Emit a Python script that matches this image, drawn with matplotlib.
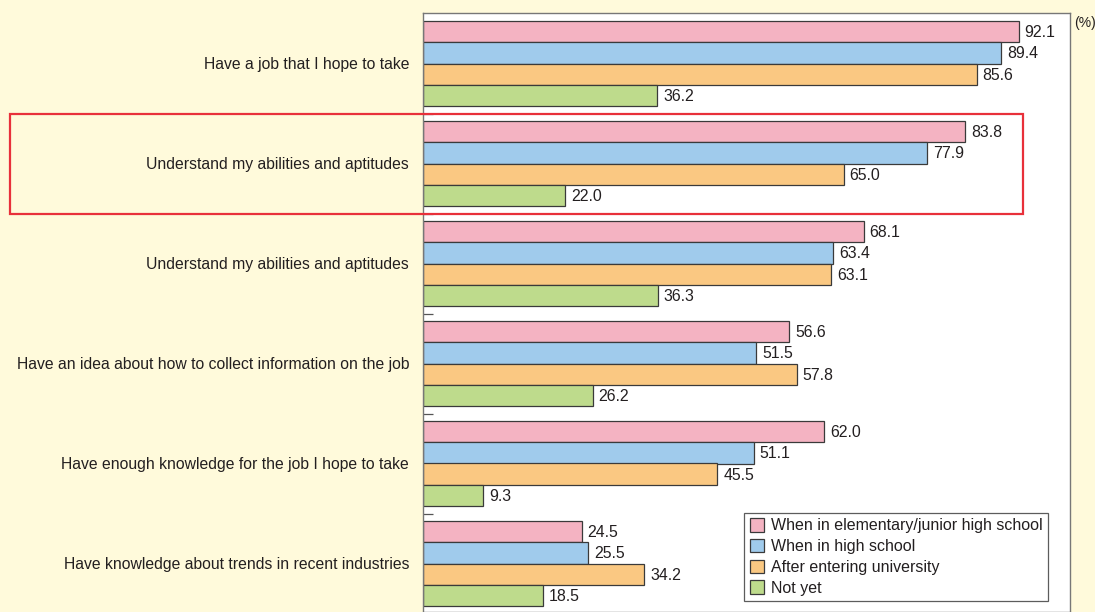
import matplotlib.pyplot as plt
import numpy as np
from matplotlib.patches import Rectangle
from matplotlib.transforms import blended_transform_factory

plt.rcParams["font.family"] = ["Liberation Sans Narrow", "Liberation Sans", "DejaVu Sans"]

categories = [
    "Have a job that I hope to take",
    "Understand my abilities and aptitudes",
    "Understand my abilities and aptitudes",
    "Have an idea about how to collect information on the job",
    "Have enough knowledge for the job I hope to take",
    "Have knowledge about trends in recent industries",
]
series_names = [
    "When in elementary/junior high school",
    "When in high school",
    "After entering university",
    "Not yet",
]
elementary = [92.1, 83.8, 68.1, 56.6, 62.0, 24.5]
high_school = [89.4, 77.9, 63.4, 51.5, 51.1, 25.5]
university = [85.6, 65.0, 63.1, 57.8, 45.5, 34.2]
not_yet = [36.2, 22.0, 36.3, 26.2, 9.3, 18.5]

colors = ["#F4B3C2", "#A0CBEC", "#FAC882", "#BEDB8C"]
bg = "#FFFADB"
text_color = "#231F20"

fig = plt.figure(figsize=(10.95, 6.12), dpi=100, facecolor=bg)
ax = fig.add_axes([423 / 1095, 0.0, 647 / 1095, 1 - 13 / 612])

y = np.arange(len(categories))
h = 0.213
for k, vals in enumerate([elementary, high_school, university, not_yet]):
    pos = y + (k - 1.5) * h
    ax.barh(pos, vals, height=h, color=colors[k], edgecolor="#3a3a3a",
            linewidth=0.9, label=series_names[k])
    for p, v in zip(pos, vals):
        ax.text(v + 0.9, p + 0.01, f"{v:.1f}", va="center", ha="left",
                fontsize=11.4, color=text_color)

ax.set_xlim(0, 100)
ax.set_ylim(5.485, -0.505)
ax.set_xticks([])
ax.set_yticks(y)
ax.set_yticklabels(categories, fontsize=11.3, color=text_color)
ax.tick_params(axis="y", which="major", length=0, pad=10)
ax.set_yticks(y[:-1] + 0.5, minor=True)
ax.tick_params(axis="y", which="minor", direction="in", length=7,
               color="#555555", width=0.9)
for s in ax.spines.values():
    s.set_color("#777777")
    s.set_linewidth(1.0)

ax.text(1.006, 0.995, "(%)", transform=ax.transAxes, ha="left", va="top",
        fontsize=10, color=text_color)

# highlight box around the second item
trans = blended_transform_factory(fig.transFigure, ax.transData)
fig.patches.append(Rectangle((10 / 1095, 0.5), 1013 / 1095, 1.0, transform=trans,
                             fill=False, edgecolor="#E8303A", linewidth=1.6))

leg = ax.legend(loc="lower right", bbox_to_anchor=(1048 / 647 - 423 / 647, 0.018),
                fontsize=11.5, frameon=True, fancybox=False, edgecolor="#333333",
                handlelength=0.9, handleheight=0.9, handletextpad=0.4,
                labelspacing=0.35, borderpad=0.35, borderaxespad=0)
leg.get_frame().set_linewidth(0.9)
for t in leg.get_texts():
    t.set_color(text_color)

fig.savefig("out.png", dpi=100, facecolor=bg)
